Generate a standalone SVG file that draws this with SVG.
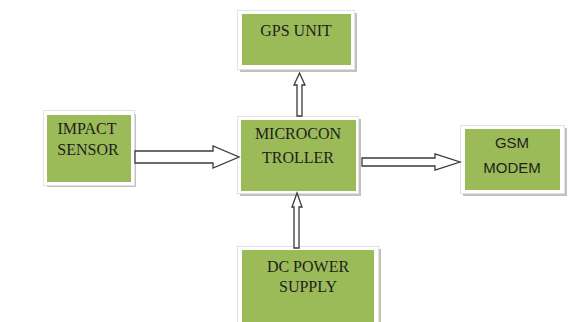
<svg xmlns="http://www.w3.org/2000/svg" width="583" height="322" viewBox="0 0 583 322">
<style>
.shadow{fill:#bfc4b8}
.frame{fill:#ffffff;stroke:#e2e2e2;stroke-width:1}
.box{fill:#9bbb59}
.t{font-family:"Liberation Serif","Times New Roman",serif;font-size:16px;fill:#1e1e1e;text-anchor:middle}
.s{font-family:"Liberation Sans",Arial,sans-serif;font-size:15px;fill:#1e1e1e;text-anchor:middle}
.arrow{fill:#ffffff;stroke:#3a3a3a;stroke-width:1.3;stroke-linejoin:miter}
</style>
<rect width="583" height="322" fill="#ffffff"/>
<g id="gps">
<rect class="shadow" x="240" y="13" width="117" height="59"/>
<rect class="frame" x="237.5" y="10.5" width="117" height="59"/>
<rect class="box" x="242" y="14" width="109" height="51"/>
<text class="t" x="296" y="36">GPS UNIT</text>
</g>
<g id="impact">
<rect class="shadow" x="47" y="114" width="89" height="73"/>
<rect class="frame" x="43.5" y="110.5" width="91" height="75"/>
<rect class="box" x="47" y="115" width="84" height="67"/>
<text class="t" x="87" y="134">IMPACT</text>
<text class="t" x="88" y="155">SENSOR</text>
</g>
<g id="micro">
<rect class="shadow" x="240" y="119" width="121" height="77"/>
<rect class="frame" x="237.5" y="116.5" width="121" height="77"/>
<rect class="box" x="241" y="120" width="115" height="71"/>
<text class="t" x="298" y="139">MICROCON</text>
<text class="t" x="298" y="163">TROLLER</text>
</g>
<g id="gsm">
<rect class="shadow" x="463" y="128" width="104" height="68"/>
<rect class="frame" x="460.5" y="125.5" width="104" height="68"/>
<rect class="box" x="465" y="129" width="95" height="61"/>
<text class="s" x="512" y="148">GSM</text>
<text class="s" x="512" y="173">MODEM</text>
</g>
<g id="dc">
<rect class="shadow" x="240" y="249" width="141" height="80"/>
<rect class="frame" x="237.5" y="246.5" width="141" height="80"/>
<rect class="box" x="242" y="250" width="132" height="75"/>
<text class="t" x="308" y="272">DC POWER</text>
<text class="t" x="308" y="292">SUPPLY</text>
</g>
<g id="connectors">
<polygon class="arrow" points="135,151 213,151 213,146 239,157 213,168 213,163 135,163"/>
<polygon class="arrow" points="362,158 435,158 435,154 460,162 435,170 435,166 362,166"/>
<polygon class="arrow" points="297,116 297,85 294,85 299.5,73 305,85 302,85 302,116"/>
<polygon class="arrow" points="294,248 294,207 292,207 297,193 302,207 299,207 299,248"/>
</g>
</svg>
